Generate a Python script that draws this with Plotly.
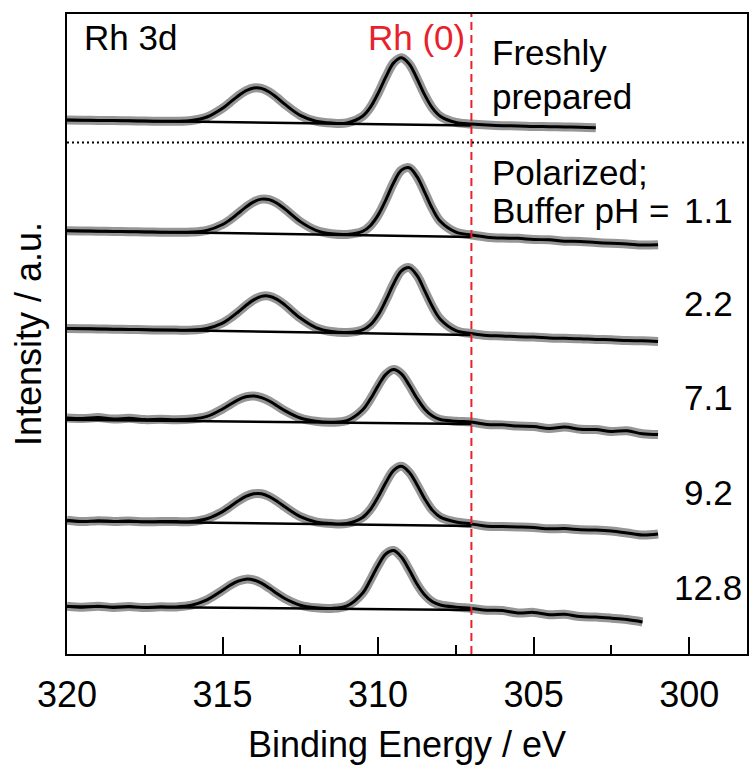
import plotly.graph_objects as go

# ---------------- data ----------------
energy = [320.0, 319.5, 319.0, 318.5, 318.0, 317.5, 317.0, 316.5, 316.0, 315.5,
          315.0, 314.75, 314.5, 314.25, 314.0, 313.75, 313.5, 313.25, 313.0,
          312.5, 312.0, 311.5, 311.0, 310.5,
          310.25, 310.0, 309.75, 309.5, 309.25, 309.0, 308.75, 308.5, 308.25, 308.0,
          307.5, 307.0, 306.5, 306.0, 305.5, 305.0, 304.5, 304.0, 303.5, 303.0,
          302.5, 302.0, 301.5, 301.0]

fresh = [536.5, 536.3, 536.1, 535.9, 535.7, 535.4, 535.2, 535.2, 536.0, 539.5,
         548.2, 554.4, 560.7, 565.9, 568.7, 568.3, 564.7, 559.0, 552.4,
         541.1, 535.3, 533.4, 533.6, 540.2,
         549.2, 563.3, 579.8, 593.9, 599.0, 592.8, 578.2, 561.7, 548.4, 540.3,
         534.0, 532.5, 531.5, 530.8, 530.6, 530.0, 529.8, 529.5, 529.3, 528.8]

ph_1_1 = [425.3, 425.1, 424.8, 424.6, 424.3, 424.1, 423.8, 423.7, 423.9, 425.6,
          431.5, 436.5, 442.7, 449.0, 454.2, 457.0, 456.5, 452.9, 447.2,
          434.4, 425.7, 422.2, 421.5, 424.5,
          430.3, 440.9, 456.3, 473.5, 486.1, 488.5, 479.6, 463.8, 447.2, 434.7,
          423.8, 421.0, 418.8, 417.9, 417.6, 416.5, 416.1, 414.8, 414.5, 413.4,
          412.6, 412.0, 410.9, 411.2]

ph_2_2 = [327.0, 326.8, 326.5, 326.3, 326.0, 325.8, 325.5, 325.4, 325.4, 327.1,
          332.5, 337.5, 343.6, 350.1, 355.8, 359.3, 359.5, 356.3, 350.8,
          337.5, 328.0, 324.0, 323.0, 325.7,
          330.7, 340.5, 355.4, 372.0, 385.0, 388.2, 380.3, 364.8, 348.8, 336.4,
          325.0, 322.0, 320.0, 319.6, 318.7, 318.5, 317.6, 317.2, 316.8, 316.0,
          315.7, 314.9, 314.6, 314.0]

ph_7_1 = [237.0, 236.5, 237.5, 236.0, 236.8, 235.5, 235.8, 235.4, 236.0, 238.7,
          246.2, 250.9, 255.4, 258.4, 259.3, 257.6, 254.2, 249.4, 244.5,
          237.1, 233.8, 232.9, 234.5, 245.1,
          256.0, 269.4, 281.0, 285.8, 281.5, 270.1, 257.0, 246.0, 239.1, 235.6,
          233.9, 233.0, 230.6, 230.2, 229.0, 228.6, 226.5, 228.0, 225.8, 225.5,
          223.6, 224.2, 221.3, 220.5]

ph_9_2 = [134.5, 133.0, 134.0, 133.2, 133.6, 132.8, 133.0, 133.0, 133.1, 135.9,
          143.1, 148.3, 153.7, 158.3, 161.0, 161.0, 158.2, 153.5, 147.9,
          138.0, 132.7, 131.0, 131.2, 137.2,
          145.1, 157.7, 172.3, 184.5, 188.6, 182.6, 170.1, 155.8, 144.3, 137.5,
          132.6, 130.7, 128.4, 128.0, 127.6, 127.0, 125.8, 126.0, 124.9, 124.5,
          123.5, 121.6, 119.5, 120.5]

ph_12_8 = [48.0, 47.0, 47.9, 46.8, 47.6, 46.6, 47.4, 47.3, 49.0, 54.4,
           64.0, 69.2, 73.2, 75.2, 74.4, 71.2, 66.2, 60.7, 55.8,
           49.0, 46.4, 45.8, 48.4, 61.1,
           74.2, 89.0, 100.6, 104.0, 97.4, 84.6, 70.3, 59.3, 52.4, 49.3,
           47.1, 45.8, 44.0, 43.6, 41.2, 41.8, 39.5, 39.9, 37.6, 37.1,
           36.0, 34.6, 32.2]

spectra = [fresh, ph_1_1, ph_2_2, ph_7_1, ph_9_2, ph_12_8]

# linear background of each fit: value at 320 eV and at 307 eV
baseline_energy = [320.0, 307.0]
baseline_start = [536.5, 425.3, 327.0, 235.3, 133.7, 47.7]
baseline_end = [531.0, 419.0, 320.5, 231.0, 128.7, 44.3]

ph_labels = ["1.1", "2.2", "7.1", "9.2", "12.8"]
x_ticks = [320, 315, 310, 305, 300]
rh0_energy = 307.0

# ---------------- layout helpers ----------------
W, H = 752, 765
L, R, T, B = 67, 3, 14, 108
PW, PH = W - L - R, H - T - B


def px(x):
    return (x - L) / PW


def py(y):
    return (H - B - y) / PH


FONT = "Liberation Sans, Arial, Helvetica, sans-serif"

fig = go.Figure()

# raw data (thick grey)
for s in spectra:
    fig.add_trace(go.Scatter(x=energy[:len(s)], y=s, mode="lines",
                             line=dict(color="#969696", width=9, shape="spline"),
                             hoverinfo="skip", showlegend=False))
# backgrounds
for b0, b1 in zip(baseline_start, baseline_end):
    fig.add_trace(go.Scatter(x=baseline_energy, y=[b0, b1], mode="lines",
                             line=dict(color="black", width=2.5),
                             hoverinfo="skip", showlegend=False))
# fit envelope / data (thin black)
for s in spectra:
    fig.add_trace(go.Scatter(x=energy[:len(s)], y=s, mode="lines",
                             line=dict(color="black", width=3, shape="spline"),
                             hoverinfo="skip", showlegend=False))

# Rh(0) reference line
fig.add_shape(type="line", xref="x", yref="paper", x0=rh0_energy, x1=rh0_energy,
              y0=0, y1=1, line=dict(color="#e8212b", width=2, dash="8px,5px"))
# dotted separator
fig.add_shape(type="line", xref="paper", yref="paper", x0=0, x1=1,
              y0=py(143), y1=py(143), line=dict(color="black", width=2, dash="2px,3px"))

ann = []


def text(t, x, y, anchor="left", color="black", size=35):
    ann.append(dict(text=t, x=px(x), y=py(y), xref="paper", yref="paper",
                    xanchor=anchor, yanchor="middle", showarrow=False,
                    font=dict(family=FONT, size=size, color=color)))


text("Rh 3d", 82, 38)
text("Rh (0)", 468, 38, anchor="right", color="#e8212b")
text("Freshly", 491, 53)
text("prepared", 491, 97)
text("Polarized;", 491, 173)
text("Buffer pH =", 491, 211)
for lab, yc in zip(ph_labels, [211, 305, 399, 495, 590]):
    text(lab, 710, yc, anchor="center")

fig.update_layout(
    width=W, height=H,
    margin=dict(l=L, r=R, t=T, b=B, pad=0),
    paper_bgcolor="white", plot_bgcolor="white",
    font=dict(family=FONT, color="black"),
    annotations=ann,
    showlegend=False,
)
fig.update_xaxes(
    range=[320, 320 - PW / 31.2], tickvals=x_ticks, ticks="inside", ticklen=17,
    tickwidth=2, tickcolor="black", showline=True, linecolor="black", linewidth=2,
    mirror=True, showgrid=False, zeroline=False,
    tickfont=dict(family=FONT, size=36, color="black"),
    ticklabelstandoff=8,
    minor=dict(ticks="inside", ticklen=9, tickwidth=2, tickcolor="black", dtick=2.5,
               tick0=300, showgrid=False),
    title=dict(text="Binding Energy / eV", font=dict(family=FONT, size=36, color="black"),
               standoff=22),
)
fig.update_yaxes(
    range=[0, PH], showticklabels=False, ticks="", showline=True, linecolor="black",
    linewidth=2, mirror=True, showgrid=False, zeroline=False,
    title=dict(text="Intensity / a.u.", font=dict(family=FONT, size=36, color="black"),
               standoff=12),
)

fig.write_html("out.html")
